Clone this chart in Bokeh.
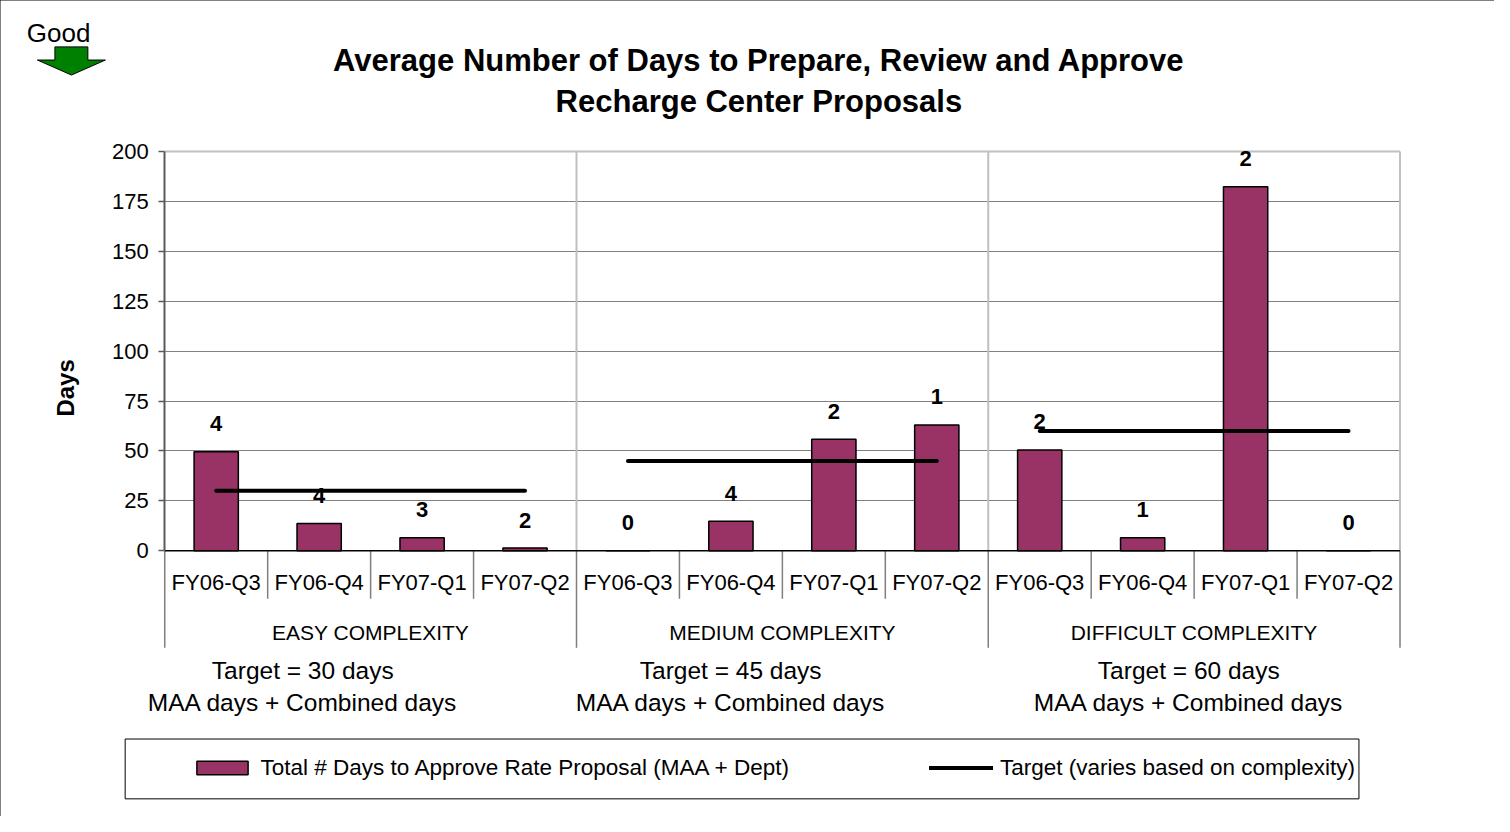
import numpy as np
from bokeh.plotting import figure
from bokeh.models import (ColumnDataSource, Range1d, FixedTicker, Label, LabelSet,
                          Legend, LegendItem, PolyAnnotation, BoxAnnotation)
from bokeh.embed import file_html
from bokeh.resources import INLINE
from bokeh.core.properties import value

# ---------------- data ----------------
groups = ["EASY COMPLEXITY", "MEDIUM COMPLEXITY", "DIFFICULT COMPLEXITY"]
quarters = ["FY06-Q3", "FY06-Q4", "FY07-Q1", "FY07-Q2"]
easy_days = [49.6, 13.6, 6.5, 1.3]
medium_days = [0.0, 14.7, 55.9, 63.0]
difficult_days = [50.5, 6.5, 182.3, 0.0]
easy_counts = [4, 4, 3, 2]
medium_counts = [0, 4, 2, 1]
difficult_counts = [2, 1, 2, 0]
targets = [30, 45, 60]
y_ticks = [0, 25, 50, 75, 100, 125, 150, 175, 200]

title_lines = ["Average Number of Days to Prepare, Review and Approve",
               "Recharge Center Proposals"]
bar_label = "Total # Days to Approve Rate Proposal (MAA + Dept)"
target_label = "Target (varies based on complexity)"

# ---------------- layout helpers ----------------
FONT = "Liberation Sans"
W, H = 1494, 816
SX, SY = W / 1510.0, H / 832.0          # reference pixel -> figure pixel
RX0, RX12 = 166.0, 1414.5               # reference x of category 0 and 12
RY0, RY200 = 561.0, 154.0               # reference y of 0 and 200 days
PPX = (RX12 - RX0) * SX / 12.0          # fig px per category
PPY = (RY0 - RY200) * SY / 200.0        # fig px per day
XS = -RX0 * SX / PPX
XE = XS + W / PPX
YE = 200.0 + RY200 * SY / PPY
YS = YE - H / PPY


def X(rx):  # reference pixel -> data x (decorations only)
    return XS + rx * SX / PPX


def Y(ry):  # reference pixel -> data y (decorations only)
    return YE - ry * SY / PPY


n_q, n_g = len(quarters), len(groups)
days = easy_days + medium_days + difficult_days
counts = easy_counts + medium_counts + difficult_counts
xs = np.arange(len(days)) + 0.5
src = ColumnDataSource(dict(x=xs, days=days, count=[str(c) for c in counts],
                            quarter=quarters * n_g))

p = figure(width=W, height=H, x_range=Range1d(XS, XE), y_range=Range1d(YS, YE),
           output_backend="svg", toolbar_location=None, x_axis_location=None,
           min_border=0, min_border_left=0, min_border_right=0,
           min_border_top=0, min_border_bottom=0)
p.outline_line_color = None
p.background_fill_color = "white"
p.border_fill_color = "white"
p.xgrid.visible = False
p.styles = {"outline": "1px solid black", "outline-offset": "-1px"}

# y axis, placed at category position 0
yax = p.yaxis[0]
yax.fixed_location = 0
yax.ticker = FixedTicker(ticks=y_ticks)
yax.bounds = (0, 200)
yax.minor_tick_line_color = None
yax.major_tick_in = 0
yax.major_tick_out = 6
yax.axis_line_color = "#5a5a5a"
yax.axis_line_width = 2
yax.major_tick_line_color = "#5a5a5a"
yax.major_tick_line_width = 1.5
yax.major_label_text_font = FONT
yax.major_label_text_font_size = "22px"
yax.major_label_text_color = "black"
yax.major_label_standoff = 10

n_cat = n_q * n_g
grid = p.ygrid[0]
if "cross_bounds" in type(grid).properties():
    grid.ticker = FixedTicker(ticks=y_ticks[1:-1])
    grid.cross_bounds = (0, n_cat)
    grid.grid_line_color = "#808080"
    grid.grid_line_width = 1
else:
    grid.visible = False
    gl = y_ticks[1:-1]
    p.segment(x0=[0] * len(gl), y0=gl, x1=[n_cat] * len(gl), y1=gl,
              line_color="#808080", line_width=1)

# structural lines
bounds = np.arange(0, n_cat + 1)
group_bounds = bounds[::n_q]
quarter_bounds = bounds[bounds % n_q != 0]
p.segment(x0=group_bounds[1:], y0=0, x1=group_bounds[1:], y1=200,
          line_color="#c0c0c0", line_width=2)
p.segment(x0=[0], y0=[200], x1=[n_cat], y1=[200], line_color="#c0c0c0", line_width=2)
p.segment(x0=quarter_bounds, y0=0, x1=quarter_bounds, y1=Y(610),
          line_color="#7f7f7f", line_width=1.5)
p.segment(x0=group_bounds, y0=0, x1=group_bounds, y1=Y(660),
          line_color="#7f7f7f", line_width=1.5)

# bars
bars = p.vbar(x="x", top="days", bottom=0, width=0.43, source=src,
              fill_color="#993366", line_color="black", line_width=1.5)
p.segment(x0=[0], y0=[0], x1=[n_cat], y1=[0], line_color="black", line_width=1.5)

# target lines
t_xs = [[g * n_q + 0.5, g * n_q + n_q - 0.5] for g in range(n_g)]
t_ys = [[t, t] for t in targets]
tl = p.multi_line(xs=t_xs, ys=t_ys, line_color="black", line_width=4, line_cap="round")

# data labels (counts)
p.add_layout(LabelSet(x="x", y="days", text="count", source=src, y_offset=28,
                      text_font=value(FONT), text_font_style="bold", text_font_size="22px",
                      text_align="center", text_baseline="middle", text_color="black"))

# category labels
p.text(x="x", y=Y(593.3), text="quarter", source=src, text_font=value(FONT),
       text_font_size="22px", text_align="center", text_baseline="middle", text_color="black")
gsrc = ColumnDataSource(dict(x=group_bounds[:-1] + n_q / 2, g=groups))
p.text(x="x", y=Y(644), text="g", source=gsrc, text_font=value(FONT),
       text_font_size="21px", text_align="center", text_baseline="middle", text_color="black")

# target notes below the groups
note_x = [X(305.5), X(738), X(1201)]
nsrc = ColumnDataSource(dict(x=note_x,
                             t1=[f"Target = {t} days" for t in targets],
                             t2=["MAA days + Combined days"] * n_g))
for col, ry in (("t1", 683), ("t2", 716)):
    p.text(x="x", y=Y(ry), text=col, source=nsrc, text_font=value(FONT),
           text_font_size="24.5px", text_align="center", text_baseline="middle",
           text_color="black")

# title
for line, ry in zip(title_lines, (61.5, 102.5)):
    p.add_layout(Label(x=X(766.5), y=Y(ry), text=line, text_font=FONT,
                       text_font_style="bold", text_font_size="31px",
                       text_align="center", text_baseline="middle", text_color="black"))

# axis title
p.add_layout(Label(x=X(66), y=Y(395), text="Days", angle=np.pi / 2, text_font=FONT,
                   text_font_style="bold", text_font_size="24px",
                   text_align="center", text_baseline="middle", text_color="black"))

# "Good" indicator
p.add_layout(Label(x=X(58.7), y=Y(33), text="Good", text_font=FONT, text_font_size="26px",
                   text_align="center", text_baseline="middle", text_color="black"))
arrow_ref = [(55, 47.3), (88.3, 47.3), (88.3, 60.7), (106, 60.7), (71.7, 76),
             (37.3, 60.7), (55, 60.7)]
p.add_layout(PolyAnnotation(xs=[X(a) for a, b in arrow_ref], ys=[Y(b) for a, b in arrow_ref],
                            fill_color="#008000", fill_alpha=1.0,
                            line_color="black", line_alpha=1.0, line_width=1))

# legend
p.add_layout(BoxAnnotation(left=X(126), right=X(1373), top=Y(753), bottom=Y(814),
                           fill_color="white", fill_alpha=1.0,
                           line_color="black", line_alpha=1.0, line_width=1))
legend = Legend(items=[LegendItem(label=bar_label, renderers=[bars]),
                       LegendItem(label=target_label, renderers=[tl])],
                orientation="horizontal",
                location=(191.6 * SX, H - 796 * SY), padding=0, margin=0,
                spacing=140, glyph_width=64, glyph_height=17, label_standoff=7,
                label_text_font=FONT, label_text_font_size="22.5px",
                label_text_color="black",
                border_line_color=None, background_fill_alpha=0.0)
p.add_layout(legend)

open("out.html", "w").write(file_html(p, INLINE))
